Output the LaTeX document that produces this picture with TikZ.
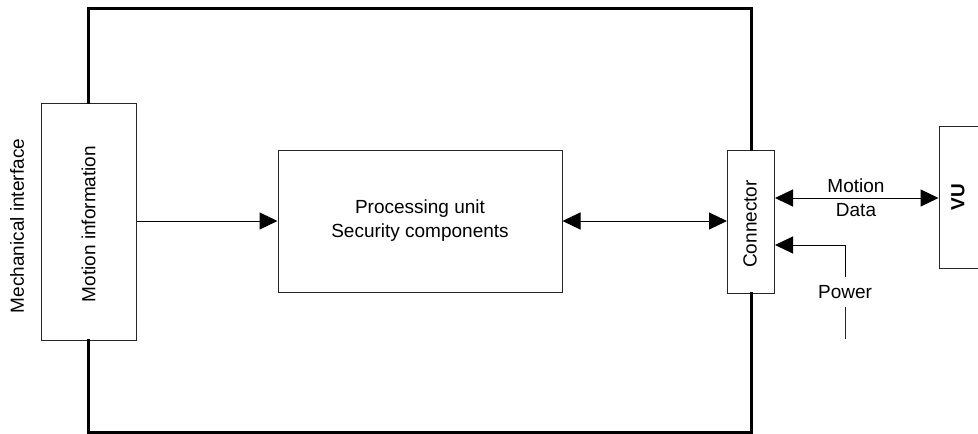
\documentclass[tikz,border=0pt]{standalone}
\usepackage{fontspec}
\setmainfont{Liberation Sans}
\usetikzlibrary{arrows.meta}
\begin{document}
\begin{tikzpicture}[x=1pt,y=-1pt,
  box/.style={draw=black!85, line width=1pt, fill=white, inner sep=0pt},
  lbl/.style={font=\fontsize{19}{24}\selectfont, inner sep=0pt, align=center},
  arr/.style={line width=1pt, -{Triangle[length=18pt,width=17pt]}},
  darr/.style={line width=1pt, {Triangle[length=18pt,width=17pt]}-{Triangle[length=18pt,width=17pt]}},
  frame/.style={line width=3pt, line join=miter, line cap=rect},
  thin/.style={line width=1pt, draw=black!85}]
\useasboundingbox (0,0) rectangle (978,434);
\clip (0,0) rectangle (978,434);
\coordinate (tl) at (88,8);
\coordinate (br) at (751,432);
\coordinate (mdy) at (0,198);
\coordinate (pwy) at (0,245);
\coordinate (pwbot) at (845,339);
\coordinate (pwlow) at (845,307);
\coordinate (pwup) at (845,277);
% nodes
\node[box, minimum width=95pt, minimum height=237pt] (mi) at (88.5,221.5) {};
\node[lbl, rotate=90] (mitext) at (88.5,224) {Motion information};
\node[lbl, rotate=90] (mech) at (17,226) {Mechanical interface};
\node[box, minimum width=284pt, minimum height=142pt, lbl] (pu) at (420,221) {Processing unit\\Security components};
\node[box, minimum width=47pt, minimum height=143pt] (conn) at (751,221.5) {};
\node[lbl, rotate=90] (conntext) at (750,224) {Connector};
\node[box, minimum width=60pt, minimum height=142pt] (vu) at (969,197) {};
\node[lbl, rotate=90, font=\fontsize{19}{24}\selectfont\bfseries] (vutext) at (958,197) {VU};
% frame
\draw[frame] (mi.north) -- (mi.north |- tl) -| (conn.north);
\draw[frame] (mi.south) -- (mi.south |- br) -| (conn.south);
% connectors
\draw[arr] (mi.east |- pu.west) -- (pu.west);
\draw[darr] (pu.east) -- (conn.west |- pu.east);
\draw[darr] (conn.east |- mdy) -- (vu.west |- mdy);
\node[lbl] (motion) at (856,186) {Motion};
\node[lbl] (data) at (856,210) {Data};
\node[lbl] (power) at (845,292) {Power};
\draw[thin] (pwbot) -- (pwlow);
\draw[arr] (pwup) -- (pwup |- pwy) -- (conn.east |- pwy);
\end{tikzpicture}
\end{document}
